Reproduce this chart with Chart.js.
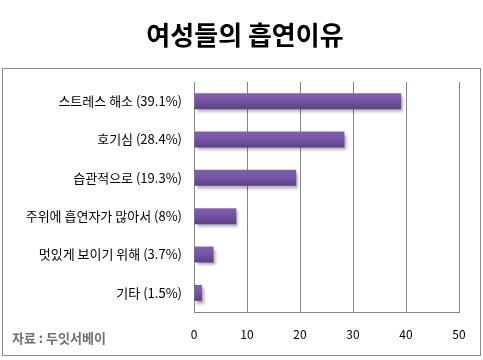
<!DOCTYPE html>
<html>
<head>
<meta charset="utf-8">
<script src="https://cdn.jsdelivr.net/npm/chart.js@4.4.0/dist/chart.umd.min.js"></script>
<style>
	html, body { margin: 0; padding: 0; background: #fff; }
	#wrap { width: 483px; height: 360px; }
</style>
</head>
<body>
<div id="wrap"><canvas id="myChart" width="483" height="360"></canvas></div>
<script>
// data
const titleText = '여성들의 흡연이유';
const sourceText = '자료 : 두잇서베이';
const labels = ['스트레스 해소 (39.1%)', '호기심 (28.4%)', '습관적으로 (19.3%)', '주위에 흡연자가 많아서 (8%)', '멋있게 보이기 위해 (3.7%)', '기타 (1.5%)'];
const values = [39.1, 28.4, 19.3, 8, 3.7, 1.5];
const xTicks = [0, 10, 20, 30, 40, 50];

const fontKR = "'Noto Sans CJK KR', 'Noto Sans', sans-serif";
const gridColor = '#858585';

// gradient for each bar (lighter top, darker bottom)
function barGradient(context) {
	const chart = context.chart;
	const yScale = chart.scales.y;
	if (!chart.chartArea || !yScale) return '#6f4f9c';
	const center = yScale.getPixelForValue(context.dataIndex);
	const g = chart.ctx.createLinearGradient(0, center - 8, 0, center + 8);
	g.addColorStop(0, '#8260b0');
	g.addColorStop(0.5, '#7454a3');
	g.addColorStop(1, '#5c3f88');
	return g;
}

// title, frame box, source text and bar shadow
const decoPlugin = {
	id: 'deco',
	beforeDraw(chart) {
		const ctx = chart.ctx;
		ctx.save();
		ctx.fillStyle = '#000';
		ctx.font = 'bold 26px ' + fontKR;
		ctx.textBaseline = 'middle';
		ctx.textAlign = 'center';
		ctx.fillText(titleText, 245, 35);

		ctx.strokeStyle = '#8a8a8a';
		ctx.lineWidth = 1;
		ctx.strokeRect(2.5, 68.5, 478, 287);

		ctx.fillStyle = '#707070';
		ctx.font = 'bold 13px ' + fontKR;
		ctx.textAlign = 'left';
		ctx.fillText(sourceText, 12, 338);
		ctx.restore();
	},
	beforeDatasetsDraw(chart) {
		const ctx = chart.ctx;
		ctx.save();
		ctx.shadowColor = 'rgba(0, 0, 0, 0.35)';
		ctx.shadowOffsetX = 2;
		ctx.shadowOffsetY = 3;
		ctx.shadowBlur = 3;
	},
	afterDatasetsDraw(chart) {
		chart.ctx.restore();
	}
};

var ctx = document.getElementById('myChart').getContext('2d');
new Chart(ctx, {
	type: 'bar',
	data: {
		labels: labels,
		datasets: [{
			data: values,
			backgroundColor: barGradient,
			borderWidth: 0,
			categoryPercentage: 0.8,
			barPercentage: 0.52,
		}],
	},
	plugins: [decoPlugin],
	options: {
		indexAxis: 'y',
		responsive: false,
		animation: false,
		layout: {
			padding: { top: 82, right: 24, bottom: 0, left: 0 },
		},
		plugins: {
			legend: { display: false },
			tooltip: { enabled: false },
			title: { display: false },
		},
		scales: {
			x: {
				min: 0,
				max: 50,
				afterBuildTicks: function(scale) {
					scale.ticks = xTicks.map(v => ({ value: v }));
				},
				afterFit: function(scale) {
					scale.height = 48;
				},
				grid: { color: gridColor, lineWidth: 1, drawTicks: false },
				border: { display: true, color: gridColor },
				ticks: {
					color: '#000',
					padding: 15,
					font: { family: fontKR, size: 12 },
				},
			},
			y: {
				afterFit: function(scale) {
					scale.width = 194;
				},
				grid: { display: false, drawTicks: false },
				border: { display: true, color: gridColor },
				ticks: {
					color: '#000',
					padding: 12,
					font: { family: fontKR, size: 13 },
				},
			},
		},
	},
});
</script>
</body>
</html>
